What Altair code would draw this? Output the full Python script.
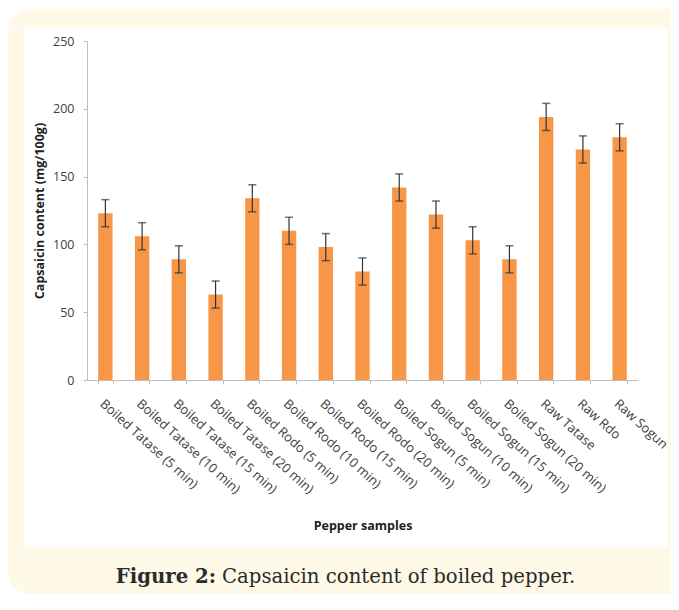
import altair as alt
import pandas as pd

categories = [
    "Boiled Tatase (5 min)", "Boiled Tatase (10 min)", "Boiled Tatase (15 min)",
    "Boiled Tatase (20 min)", "Boiled Rodo (5 min)", "Boiled Rodo (10 min)",
    "Boiled Rodo (15 min)", "Boiled Rodo (20 min)", "Boiled Sogun (5 min)",
    "Boiled Sogun (10 min)", "Boiled Sogun (15 min)", "Boiled Sogun (20 min)",
    "Raw Tatase", "Raw Rdo", "Raw Sogun",
]
values = [123, 106, 89, 63, 134, 110, 98, 80, 142, 122, 103, 89, 194, 170, 179]
errors = [10, 10, 10, 10, 10, 10, 10, 10, 10, 10, 10, 10, 10, 10, 10]
y_ticks = [0, 50, 100, 150, 200, 250]

caption_bold = "Figure 2:"
caption_rest = "Capsaicin content of boiled pepper."

df = pd.DataFrame({"sample": categories, "value": values, "err": errors})
df["lo"] = df["value"] - df["err"]
df["hi"] = df["value"] + df["err"]

W, H = 551, 339
ORANGE = "#F79646"
CREAM = "#FEFAE7"
AXIS_GRAY = "#BFBFBF"

x_enc = alt.X(
    "sample:N",
    sort=categories,
    scale=alt.Scale(paddingInner=0.61, paddingOuter=0.305),
    axis=alt.Axis(
        title="Pepper samples",
        labelAngle=42,
        labelAlign="left",
        labelBaseline="top",
        labelFont="Open Sans",
        labelFontSize=13,
        labelColor="#404040",
        labelPadding=13,
        labelOverlap=False,
        labelLimit=300,
        tickBand="extent",
        tickSize=4,
        tickColor=AXIS_GRAY,
        domainColor=AXIS_GRAY,
        titleFont="Open Sans",
        titleFontSize=12.5,
        titleFontWeight="bold",
        titleColor="#222222",
        titleY=145,
        titleBaseline="middle",
        zindex=1,
    ),
)
y_enc = alt.Y(
    "value:Q",
    scale=alt.Scale(domain=[0, 250], nice=False),
    axis=alt.Axis(
        values=y_ticks,
        grid=False,
        title="Capsaicin content (mg/100g)",
        labelFont="Open Sans",
        labelFontSize=12.5,
        labelColor="#404040",
        labelPadding=9,
        tickSize=4,
        tickColor=AXIS_GRAY,
        domainColor=AXIS_GRAY,
        titleFont="Open Sans",
        titleFontSize=12.5,
        titleFontWeight="bold",
        titleColor="#222222",
        titlePadding=6,
        zindex=1,
    ),
)

one = pd.DataFrame({"k": [0]})

cream = alt.Chart(one).mark_rect(color=CREAM, cornerRadius=22).encode(
    x=alt.value(-79), x2=alt.value(610), y=alt.value(-32), y2=alt.value(553)
)
white = alt.Chart(one).mark_rect(color="white").encode(
    x=alt.value(-63), x2=alt.value(580), y=alt.value(-13.5), y2=alt.value(506)
)

base = alt.Chart(df)
bars = base.mark_bar(color=ORANGE).encode(x=x_enc, y=y_enc)
rules = base.mark_rule(color="#333333", strokeWidth=1.2).encode(
    x=alt.X("sample:N", sort=categories), y="lo:Q", y2="hi:Q"
)
caps_hi = base.mark_tick(color="#333333", size=8, thickness=1.5).encode(
    x=alt.X("sample:N", sort=categories), y="hi:Q"
)
caps_lo = base.mark_tick(color="#333333", size=8, thickness=1.5).encode(
    x=alt.X("sample:N", sort=categories), y="lo:Q"
)

cap1 = alt.Chart(pd.DataFrame({"t": [caption_bold]})).mark_text(
    font="DejaVu Serif", fontSize=19.7, fontWeight="bold", align="right",
    baseline="alphabetic", color="#2b2b2b"
).encode(text="t:N", x=alt.value(129), y=alt.value(542))
cap2 = alt.Chart(pd.DataFrame({"t": [caption_rest]})).mark_text(
    font="DejaVu Serif", fontSize=19.7, align="left",
    baseline="alphabetic", color="#2b2b2b"
).encode(text="t:N", x=alt.value(135), y=alt.value(542))

chart = alt.layer(cream, white, bars, rules, caps_hi, caps_lo, cap1, cap2).properties(
    width=W,
    height=H,
    autosize=alt.AutoSizeParams(type="none"),
    padding={"left": 79, "top": 33, "right": 33, "bottom": 214},
    background="white",
).configure_view(stroke=None)

chart.save("out.html", embed_options={"renderer": "svg", "actions": False})
